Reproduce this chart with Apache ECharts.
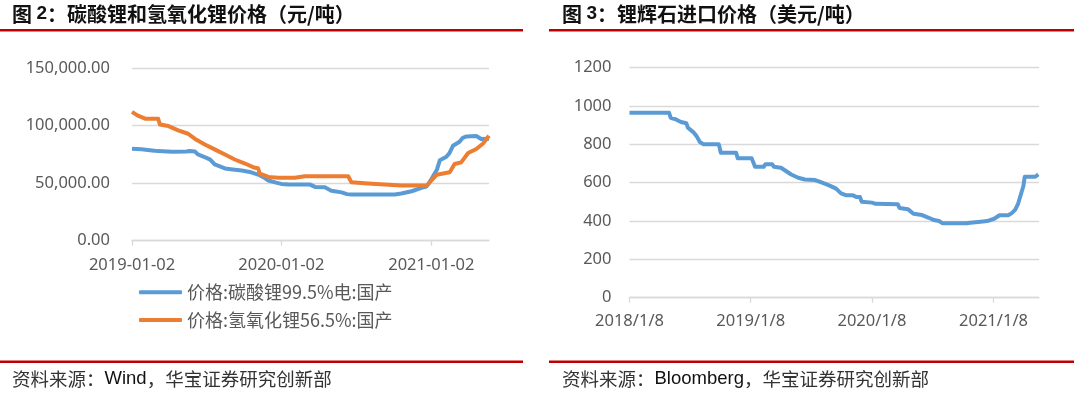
<!DOCTYPE html>
<html>
<head>
<meta charset="utf-8">
<script src="https://cdn.jsdelivr.net/npm/echarts@6/dist/echarts.min.js"></script>
<style>
html,body{margin:0;padding:0;background:#fff;}
#main{width:1080px;height:397px;}
</style>
</head>
<body>
<div id="main"></div>
<script>
// ---------- data ----------
var carbDates = ['2019-01-02','2019-01-25','2019-02-20','2019-03-07','2019-04-10','2019-05-15','2019-05-23','2019-06-05','2019-06-12','2019-07-03','2019-07-12','2019-07-23','2019-08-17','2019-09-05','2019-09-27','2019-10-20','2019-11-06','2019-11-20','2019-12-01','2019-12-20','2020-01-02','2020-01-20','2020-03-12','2020-03-24','2020-04-17','2020-05-03','2020-05-28','2020-06-10','2020-06-20','2020-10-05','2020-10-21','2020-11-15','2020-12-09','2020-12-21','2020-12-28','2021-01-06','2021-01-16','2021-01-23','2021-02-08','2021-02-15','2021-02-24','2021-03-12','2021-03-20','2021-03-29','2021-04-22','2021-05-04','2021-05-23'];
var carbVals = [80000,79500,78500,77900,77300,77500,78000,77500,75000,72000,70500,66300,62800,62000,61000,59500,57500,55000,52300,50500,49400,48800,48800,46800,46500,43500,42000,40500,40100,40100,41000,43000,45900,47100,50300,55800,62000,70000,73000,76000,82500,86000,89500,90700,91000,88400,88700];

var hydDates = ['2019-01-02','2019-01-15','2019-02-03','2019-03-07','2019-03-11','2019-04-01','2019-04-25','2019-05-19','2019-06-05','2019-06-29','2019-07-23','2019-08-17','2019-09-10','2019-10-05','2019-10-29','2019-11-06','2019-11-10','2019-12-01','2019-12-25','2020-02-04','2020-02-28','2020-06-13','2020-06-21','2020-07-31','2020-08-04','2020-10-21','2020-12-22','2020-12-29','2021-01-15','2021-02-16','2021-02-28','2021-03-16','2021-04-02','2021-04-22','2021-05-08','2021-05-23'];
var hydVals = [112000,109000,106100,106000,101100,99700,96000,93000,88500,83700,79400,75000,70600,67100,63400,63000,58400,55500,54700,54700,56100,56000,50800,49700,48800,48000,48000,50800,57300,59500,66700,68100,76200,79700,84300,91300];

var spodDates = ['2018-01-08','2018-05-07','2018-05-12','2018-05-28','2018-06-12','2018-06-28','2018-07-03','2018-07-19','2018-07-29','2018-08-08','2018-08-19','2018-10-04','2018-10-10','2018-11-25','2018-11-30','2019-01-11','2019-01-21','2019-02-16','2019-02-21','2019-03-14','2019-03-19','2019-04-09','2019-04-24','2019-05-10','2019-05-31','2019-06-20','2019-07-21','2019-08-11','2019-09-01','2019-09-22','2019-10-07','2019-10-23','2019-11-12','2019-11-23','2019-12-03','2019-12-08','2020-01-08','2020-01-19','2020-03-26','2020-03-31','2020-04-26','2020-05-12','2020-06-07','2020-06-27','2020-07-13','2020-07-28','2020-08-08','2020-10-19','2020-10-30','2020-11-30','2020-12-20','2021-01-10','2021-01-26','2021-02-21','2021-03-03','2021-03-14','2021-03-23','2021-04-08','2021-04-12','2021-05-14','2021-05-23'];
var spodVals = [965,965,939,930,917,910,887,864,843,812,800,800,756,756,727,727,683,683,696,696,683,678,661,643,626,617,614,600,586,569,544,534,534,525,525,501,496,490,487,468,461,438,431,417,405,400,388,388,391,396,400,412,430,430,440,458,490,583,631,631,643];

var leftTicks = ['2019-01-02','2020-01-02','2021-01-02'];
var rightTicks = ['2018/1/8','2019/1/8','2020/1/8','2021/1/8'];
var leftRange = ['2019-01-02','2021-05-23'];
var rightRange = ['2018-01-08','2021-05-25'];

var seriesNames = ['价格:碳酸锂99.5%电:国产','价格:氢氧化锂56.5%:国产'];
var titleLeft = {num:'2', text:'碳酸锂和氢氧化锂价格（元/吨）'};
var titleRight = {num:'3', text:'锂辉石进口价格（美元/吨）'};
var sourceLeft = ['资料来源：','Wind','，华宝证券研究创新部'];
var sourceRight = ['资料来源：','Bloomberg','，华宝证券研究创新部'];

// ---------- helpers ----------
function d(s){ var p = s.split(/[-\/]/); return new Date(+p[0], +p[1]-1, +p[2]).getTime(); }
function pairs(ds, vs){ return ds.map(function(x,i){ return [d(x), vs[i]]; }); }
function pad(n){ return n<10 ? '0'+n : ''+n; }

var BLUE = '#5B9BD5', ORANGE = '#ED7D31', GRID = '#D9D9D9', LBL = '#595959', RED = '#C00000';
var latin = 'Noto Sans';
var cjk = '"Noto Sans CJK SC"';

var chart = echarts.init(document.getElementById('main'), null, {renderer:'canvas'});

function titleText(x, t){
  return {type:'text', left:x, top:4, style:{
    text:'{a|图 }{b|'+t.num+'}{a|：'+t.text+'}',
    rich:{
      a:{fontFamily:cjk, fontSize:20, fontWeight:'bold', fill:'#111'},
      b:{fontFamily:'Liberation Sans', fontSize:19, fontWeight:'bold', fill:'#111'}
    }
  }};
}
function sourceText(x, s){
  return {type:'text', left:x, top:369.5, style:{
    text:'{a|'+s[0]+'}{b|'+s[1]+'}{a|'+s[2]+'}',
    rich:{
      a:{fontFamily:cjk, fontSize:18.5, fill:'#333'},
      b:{fontFamily:'Liberation Sans', fontSize:18.5, fill:'#111'}
    }
  }};
}

var option = {
  backgroundColor:'#fff',
  animation:false,
  graphic:[
    titleText(12, titleLeft),
    titleText(562, titleRight),
    {type:'rect', shape:{x:0, y:29, width:523, height:2.5}, style:{fill:RED}},
    {type:'rect', shape:{x:549, y:29, width:525, height:2.5}, style:{fill:RED}},
    {type:'rect', shape:{x:0, y:360.5, width:523, height:2.5}, style:{fill:RED}},
    {type:'rect', shape:{x:549, y:360.5, width:525, height:2.5}, style:{fill:RED}},
    sourceText(12, sourceLeft),
    sourceText(562, sourceRight)
  ],
  legend:{
    orient:'vertical', left:139, top:283.3, padding:0, itemWidth:43, itemHeight:4, itemGap:9.7,
    icon:'roundRect',
    data:seriesNames,
    textStyle:{fontFamily:cjk, fontSize:18, color:LBL}
  },
  grid:[
    {left:132, right:591, top:68.2, bottom:156.3, containLabel:false},
    {left:629.5, right:41, top:67.7, bottom:99.3, containLabel:false}
  ],
  xAxis:[
    {type:'value', gridIndex:0, min:d(leftRange[0]), max:d(leftRange[1]),
     axisLine:{show:true, onZero:false, lineStyle:{color:GRID, width:1.3}},
     axisTick:{show:true, length:5, lineStyle:{color:GRID, width:1.3}, customValues:leftTicks.map(d)},
     axisLabel:{customValues:leftTicks.map(d), margin:16, color:LBL, fontFamily:latin, fontSize:16.5,
       formatter:function(v){ var t=new Date(v); return t.getFullYear()+'-'+pad(t.getMonth()+1)+'-'+pad(t.getDate()); }},
     splitLine:{show:false}},
    {type:'value', gridIndex:1, min:d(rightRange[0]), max:d(rightRange[1]),
     axisLine:{show:true, onZero:false, lineStyle:{color:GRID, width:1.3}},
     axisTick:{show:true, length:5, lineStyle:{color:GRID, width:1.3}, customValues:rightTicks.map(d)},
     axisLabel:{customValues:rightTicks.map(d), margin:15, color:LBL, fontFamily:latin, fontSize:16.5,
       formatter:function(v){ var t=new Date(v); return t.getFullYear()+'/'+(t.getMonth()+1)+'/'+t.getDate(); }},
     splitLine:{show:false}}
  ],
  yAxis:[
    {type:'value', gridIndex:0, min:0, max:150000, interval:50000,
     axisLine:{show:false}, axisTick:{show:false},
     axisLabel:{margin:22, color:LBL, fontFamily:latin, fontSize:16.5,
       formatter:function(v){ return v.toLocaleString('en-US',{minimumFractionDigits:2, maximumFractionDigits:2}); }},
     splitLine:{lineStyle:{color:GRID, width:1.3}}},
    {type:'value', gridIndex:1, min:0, max:1200, interval:200,
     axisLine:{show:false}, axisTick:{show:false},
     axisLabel:{margin:18, color:LBL, fontFamily:latin, fontSize:16.5,
       formatter:function(v){ return String(v); }},
     splitLine:{lineStyle:{color:GRID, width:1.3}}}
  ],
  series:[
    {name:seriesNames[0], type:'line', xAxisIndex:0, yAxisIndex:0, data:pairs(carbDates, carbVals),
     showSymbol:false, symbol:'none', color:BLUE, lineStyle:{width:4, color:BLUE, join:'round'}, z:3},
    {name:seriesNames[1], type:'line', xAxisIndex:0, yAxisIndex:0, data:pairs(hydDates, hydVals),
     showSymbol:false, symbol:'none', color:ORANGE, lineStyle:{width:4, color:ORANGE, join:'round'}, z:4},
    {name:'锂辉石进口价格', type:'line', xAxisIndex:1, yAxisIndex:1, data:pairs(spodDates, spodVals),
     showSymbol:false, symbol:'none', color:BLUE, lineStyle:{width:4, color:BLUE, join:'round'}}
  ]
};
chart.setOption(option);
</script>
</body>
</html>
